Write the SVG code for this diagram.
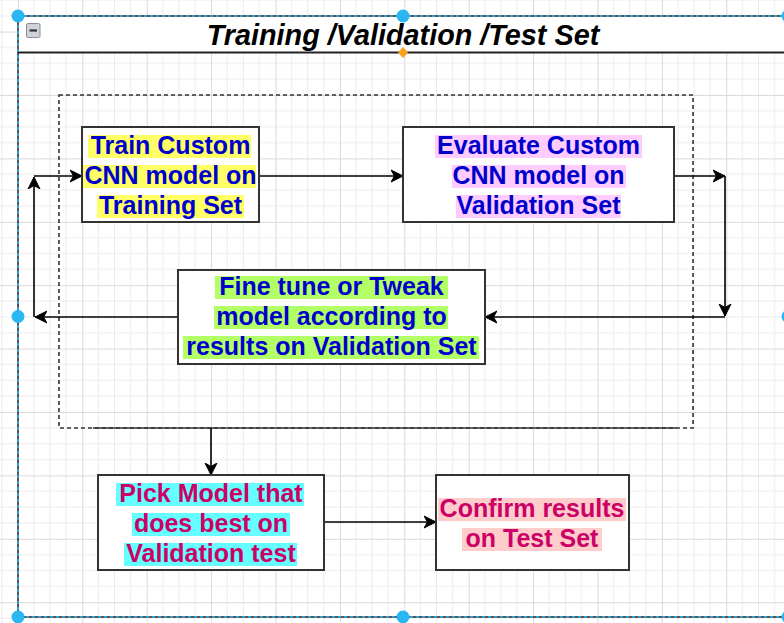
<svg xmlns="http://www.w3.org/2000/svg" width="784" height="623" viewBox="0 0 784 623">
  <defs>
    <pattern id="grid" patternUnits="userSpaceOnUse" x="17.9" y="31.6" width="64.4" height="63.4">
      <path d="M16.1 0V63.4M32.2 0V63.4M48.3 0V63.4M0 15.85H64.4M0 31.7H64.4M0 47.55H64.4" stroke="#ebebeb" stroke-width="1" fill="none"/>
      <path d="M0.5 0V63.4M0 0.5H64.4" stroke="#d9d9d9" stroke-width="1" fill="none"/>
    </pattern>
    <marker id="arrow" markerUnits="userSpaceOnUse" viewBox="-12 -7 14 14" refX="0" refY="0" markerWidth="14" markerHeight="14" orient="auto">
      <path d="M0 0L-12 -6L-8.5 0L-12 6Z" fill="#000" stroke="#000" stroke-width="1" stroke-linejoin="miter"/>
    </marker>
    <style>
      .node rect.box { fill: #fff; stroke: #333; stroke-width: 2; }
      .label { font-family: "Liberation Sans", Arial, sans-serif; font-weight: bold; font-size: 25px; text-anchor: middle; }
      .blue { fill: #0000cc; }
      .crimson { fill: #cc0066; }
      .edge { fill: none; stroke: #000; stroke-width: 1.6; marker-end: url(#arrow); }
      .handle { fill: #29b6f2; }
    </style>
  </defs>

  <!-- canvas grid -->
  <rect x="0" y="0" width="784" height="623" fill="#fff"/>
  <rect x="0" y="0" width="784" height="623" fill="url(#grid)"/>

  <!-- swimlane container -->
  <g id="container">
    <rect x="18" y="16" width="770" height="36" fill="#fff"/>
    <rect x="18" y="16" width="770" height="601" fill="none" stroke="#222" stroke-width="1.5"/>
    <line x1="18" y1="52.5" x2="788" y2="52.5" stroke="#222" stroke-width="1.8"/>
    <text x="403" y="45" font-family="'Liberation Sans', Arial, sans-serif" font-weight="bold" font-style="italic" font-size="28.8" text-anchor="middle" fill="#000">Training /Validation /Test Set</text>
    <!-- collapse toggle -->
    <rect x="26.5" y="23.5" width="13.5" height="14" rx="1.5" fill="#cfd2d6" stroke="#8a8f99" stroke-width="1"/>
    <line x1="29.5" y1="30.5" x2="37" y2="30.5" stroke="#333" stroke-width="2.2"/>
  </g>

  <!-- dashed grouping frame -->
  <g id="group">
    <rect x="59" y="95" width="634" height="333" fill="none" stroke="#333" stroke-width="1.6" stroke-dasharray="4 3"/>
    <line x1="93" y1="428" x2="677" y2="428" stroke="#333" stroke-width="1.6"/>
  </g>

  <!-- connectors -->
  <g id="connectors">
    <path class="edge" d="M259 176H403"/>
    <path class="edge" d="M674 176H725"/>
    <path class="edge" d="M725 176V316"/>
    <path class="edge" d="M725 317H485"/>
    <path class="edge" d="M178 317H35"/>
    <path class="edge" d="M34 317V177"/>
    <path class="edge" d="M34 176H82"/>
    <path class="edge" d="M211 428V475"/>
    <path class="edge" d="M324 522H436"/>
  </g>

  <g id="train" class="node">
    <rect class="box" x="82" y="127" width="177" height="95"/>
    <g fill="#ffff66">
      <rect x="88" y="135" width="163" height="23"/>
      <rect x="83" y="165" width="173" height="23"/>
      <rect x="97" y="195" width="147" height="23"/>
    </g>
    <text class="label blue" x="170.5" y="154">Train Custom</text>
    <text class="label blue" x="170.5" y="184">CNN model on</text>
    <text class="label blue" x="170.5" y="214">Training Set</text>
  </g>

  <g id="evaluate" class="node">
    <rect class="box" x="403" y="127" width="271" height="95"/>
    <g fill="#ffccff">
      <rect x="435" y="135" width="207" height="23"/>
      <rect x="452" y="165" width="174" height="23"/>
      <rect x="456" y="195" width="165" height="23"/>
    </g>
    <text class="label blue" x="538.5" y="154">Evaluate Custom</text>
    <text class="label blue" x="538.5" y="184">CNN model on</text>
    <text class="label blue" x="538.5" y="214">Validation Set</text>
  </g>

  <g id="finetune" class="node">
    <rect class="box" x="178" y="270" width="307" height="94"/>
    <g fill="#b3ff66">
      <rect x="215" y="276" width="233" height="23"/>
      <rect x="214" y="306" width="234" height="23"/>
      <rect x="183" y="336" width="296" height="23"/>
    </g>
    <text class="label blue" x="331.5" y="295">Fine tune or Tweak</text>
    <text class="label blue" x="331.5" y="325">model according to</text>
    <text class="label blue" x="331.5" y="355">results on Validation Set</text>
  </g>

  <g id="pick" class="node">
    <rect class="box" x="98" y="475" width="226" height="95"/>
    <g fill="#66ffff">
      <rect x="116" y="483" width="188" height="23"/>
      <rect x="132" y="513" width="158" height="23"/>
      <rect x="124" y="543" width="173" height="23"/>
    </g>
    <text class="label crimson" x="211" y="502">Pick Model that</text>
    <text class="label crimson" x="211" y="532">does best on</text>
    <text class="label crimson" x="211" y="562">Validation test</text>
  </g>

  <g id="confirm" class="node">
    <rect class="box" x="436" y="475" width="193" height="95"/>
    <g fill="#ffcccc">
      <rect x="438" y="498" width="188" height="23"/>
      <rect x="462" y="528" width="140" height="23"/>
    </g>
    <text class="label crimson" x="532" y="517">Confirm results</text>
    <text class="label crimson" x="532" y="547">on Test Set</text>
  </g>

  <!-- selection outline and handles on the container -->
  <g id="selection">
    <rect x="18" y="16" width="770" height="601" fill="none" stroke="#29b6f2" stroke-width="1.5" stroke-dasharray="3 3"/>
    <circle class="handle" cx="18" cy="16" r="6.5"/>
    <circle class="handle" cx="403" cy="16" r="6.5"/>
    <circle class="handle" cx="788" cy="16" r="6.5"/>
    <circle class="handle" cx="18" cy="316.5" r="6.5"/>
    <circle class="handle" cx="788" cy="316.5" r="6.5"/>
    <circle class="handle" cx="18" cy="617" r="6.5"/>
    <circle class="handle" cx="403" cy="617" r="6.5"/>
    <circle class="handle" cx="788" cy="617" r="6.5"/>
    <path d="M403 47L408 52.5L403 58L398 52.5Z" fill="#f8a01c"/>
  </g>
</svg>
